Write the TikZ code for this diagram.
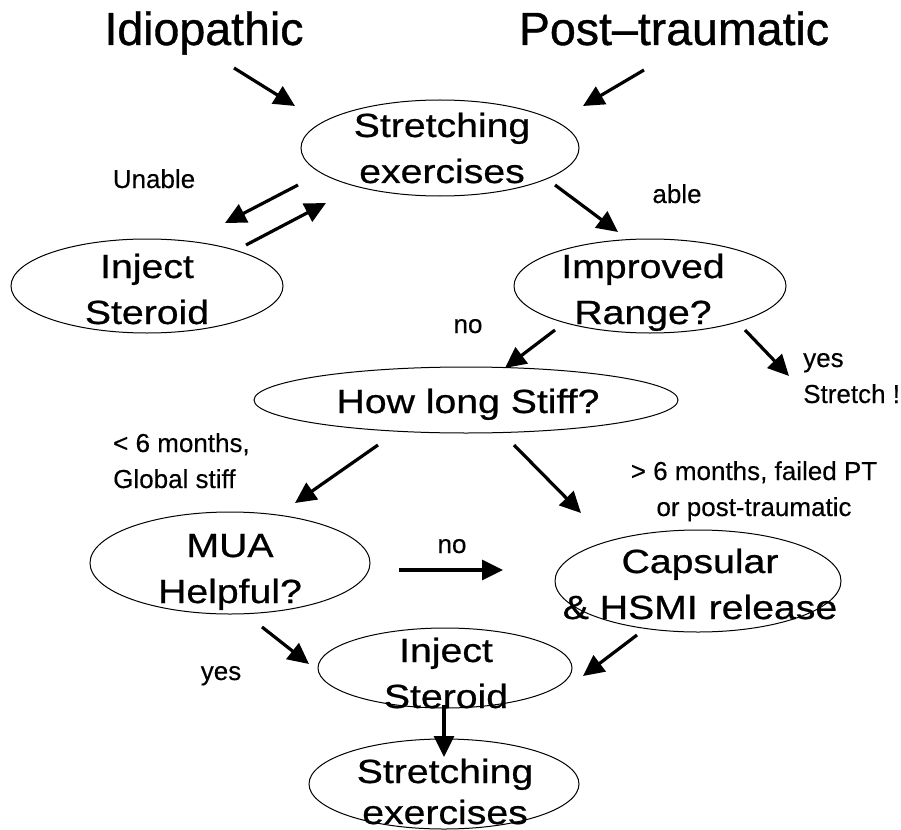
\documentclass[tikz,border=0pt]{standalone}
\usepackage{fontspec}
\setmainfont{Liberation Sans}
\newfontfamily\titlefont[FakeBold=0.8]{Liberation Sans}
\newfontfamily\widefont[FakeStretch=1.17,FakeBold=0.7]{Liberation Sans}
\newfontfamily\labfont[FakeBold=0.3]{Liberation Sans}
\usetikzlibrary{shapes.geometric,arrows.meta}
\newcommand\mylines[3][c]{\setlength\baselineskip{#2}\begin{tabular}[t]{@{}#1@{}}#3\end{tabular}}
\begin{document}
\begin{tikzpicture}[x=1pt,y=-1pt,
  title/.style={font=\titlefont\fontsize{46.5}{50}\selectfont, inner sep=0, anchor=base},
  etext/.style={font=\widefont\fontsize{33.5}{46}\selectfont, inner sep=0, anchor=base},
  lab/.style={font=\labfont\fontsize{26}{36}\selectfont, inner sep=0, anchor=base},
  ell/.style={ellipse, draw, line width=1pt, inner sep=0, outer sep=0},
  arr/.style={line width=3.2pt, -{Triangle[length=21pt,width=20pt]}}]
\useasboundingbox (0,0) rectangle (901,829);
% titles
\node[title] (idio) at (204,45) {Idiopathic};
\node[title] (post) at (674,45) {Post–traumatic};
% ellipses
\node[ell, minimum width=278pt, minimum height=96pt] (s1) at (440,148) {};
\node[ell, minimum width=272pt, minimum height=94pt] (inj1) at (147,286) {};
\node[ell, minimum width=272pt, minimum height=94pt] (imp) at (650,286) {};
\node[ell, minimum width=424pt, minimum height=66pt] (hl) at (466,400) {};
\node[ell, minimum width=280pt, minimum height=102pt] (mua) at (230,563) {};
\node[ell, minimum width=286pt, minimum height=102pt] (cap) at (698,581) {};
\node[ell, minimum width=254pt, minimum height=80pt] (inj2) at (445,668) {};
\node[ell, minimum width=270pt, minimum height=90pt] (s2) at (444,784) {};
% ellipse texts
\node[etext] (s1t) at (442,137) {\mylines{46pt}{Stretching\\exercises}};
\node[etext] (inj1t) at (147,278) {\mylines{45pt}{Inject\\Steroid}};
\node[etext] (impt) at (643,278) {\mylines{42pt}{Improved\\Range?}};
\node[etext] (hlt) at (468,413) {How long Stiff?};
\node[etext] (muat) at (230,557) {\mylines{43pt}{MUA\\Helpful?}};
\node[etext] (capt) at (700,573) {\mylines{45pt}{Capsular\\\& HSMI release}};
\node[etext] (inj2t) at (446,662) {\mylines{41pt}{Inject\\Steroid}};
\node[etext] (s2ta) at (445,783) {Stretching};
\node[etext] (s2tb) at (445,824) {exercises};
% labels
\node[lab] (unable) at (154,188) {Unable};
\node[lab] (able) at (677,203) {able};
\node[lab] (no1) at (468,333) {no};
\node[lab, anchor=base west] (yes1) at (803,367) {\mylines[l]{38pt}{yes\\Stretch !}};
\node[lab, anchor=base west] (less) at (113,452) {\mylines[l]{36pt}{< 6 months,\\Global stiff}};
\node[lab] (more) at (754,480) {\mylines{37pt}{> 6 months, failed PT\\or post-traumatic}};
\node[lab] (no2) at (452,553) {no};
\node[lab] (yes2) at (221,680) {yes};
% arrow end points
\coordinate (a1s) at (234,68);  \coordinate (a1e) at (295,106);
\coordinate (a2s) at (644,70);  \coordinate (a2e) at (583,106);
\coordinate (a3s) at (298,185); \coordinate (a3e) at (225,223);
\coordinate (a4s) at (246,245); \coordinate (a4e) at (326,203);
\coordinate (a5s) at (555,185); \coordinate (a5e) at (618,232);
\coordinate (a6s) at (555,330); \coordinate (a6e) at (505,368);
\coordinate (a7s) at (745,330); \coordinate (a7e) at (789,376);
\coordinate (a8s) at (378,445); \coordinate (a8e) at (295,503);
\coordinate (a9s) at (514,445); \coordinate (a9e) at (581,513);
\coordinate (a10s) at (399,570); \coordinate (a10e) at (503,570);
\coordinate (a11s) at (262,627); \coordinate (a11e) at (309,664);
\coordinate (a12s) at (637,635); \coordinate (a12e) at (583,676);
\coordinate (a13s) at (444,705); \coordinate (a13e) at (444,757);
\foreach \i in {1,...,13} \draw[arr] (a\i s) -- (a\i e);
\end{tikzpicture}
\end{document}
